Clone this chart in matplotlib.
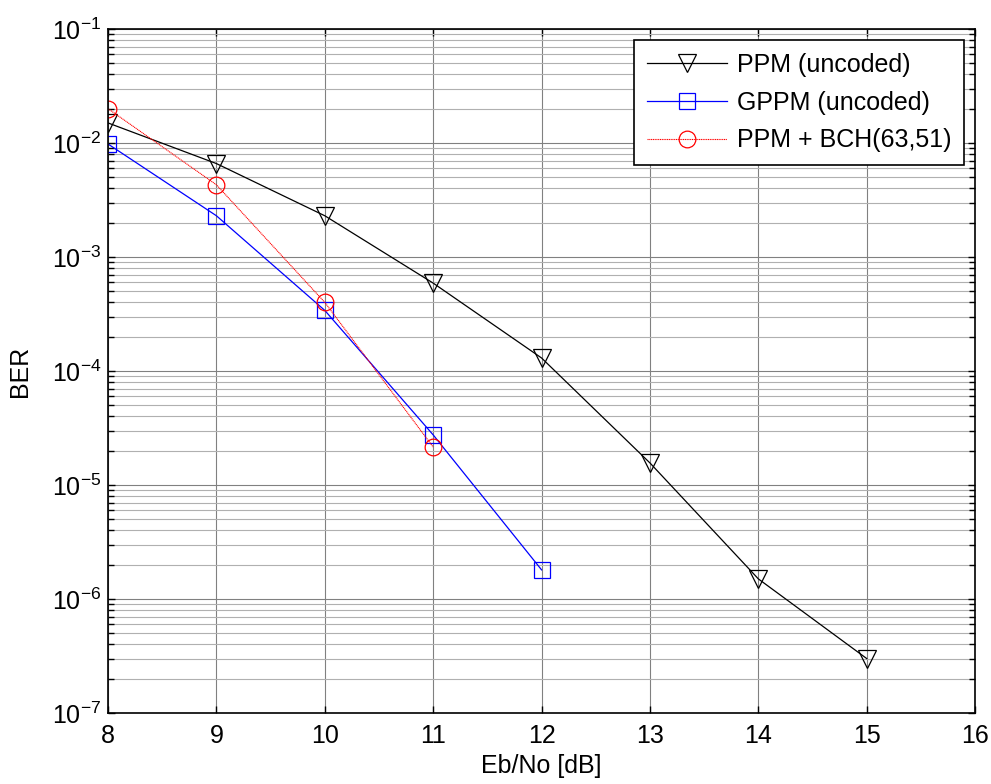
import numpy as np
import matplotlib
matplotlib.use('Agg')
from matplotlib import pyplot as plt
from matplotlib.ticker import LogLocator, FixedLocator, NullFormatter

plt.rcParams['font.family'] = ['Liberation Sans', 'DejaVu Sans']
plt.rcParams['mathtext.fontset'] = 'custom'
plt.rcParams['mathtext.rm'] = 'Liberation Sans'

# данные
ebno_ppm = [8, 9, 10, 11, 12, 13, 14, 15]
ber_ppm = [1.5e-2, 6.6e-3, 2.3e-3, 5.9e-4, 1.3e-4, 1.56e-5, 1.5e-6, 3.0e-7]

ebno_gppm = [8, 9, 10, 11, 12]
ber_gppm = [9.8e-3, 2.3e-3, 3.4e-4, 2.75e-5, 1.8e-6]

ebno_bch = [8, 9, 10, 11]
ber_bch = [2.0e-2, 4.3e-3, 4.0e-4, 2.15e-5]

labels = ['PPM (uncoded)', 'GPPM (uncoded)', 'PPM + BCH(63,51)']

fs = 18

fig = plt.figure(figsize=(9.91, 7.84), dpi=100)
ax = fig.add_axes([0.109, 0.0906, 0.875, 0.8724])

ax.semilogy(ebno_ppm, ber_ppm, color='k', lw=0.9, marker='v', ms=13,
            mfc='none', mec='k', mew=0.9, label=labels[0])
ax.semilogy(ebno_gppm, ber_gppm, color='b', lw=0.9, marker='s', ms=12,
            mfc='none', mec='b', mew=0.9, label=labels[1])
ax.semilogy(ebno_bch, ber_bch, color='r', lw=0.8, ls=(0, (1, 0.6)), marker='o', ms=12,
            mfc='none', mec='r', mew=0.9, label=labels[2])

ax.set_xlim(8, 16)
ax.set_ylim(1e-7, 1e-1)
ax.xaxis.set_major_locator(FixedLocator(np.arange(8, 17)))
ax.yaxis.set_major_locator(LogLocator(base=10, numticks=10))
ax.yaxis.set_minor_locator(LogLocator(base=10, subs=np.arange(2, 10), numticks=20))
ax.yaxis.set_minor_formatter(NullFormatter())
ax.yaxis.set_major_formatter(plt.FuncFormatter(
    lambda v, p: r'$\mathregular{10^{%d}}$' % int(round(np.log10(v)))))

# сетка в стиле MATLAB
ax.grid(True, which='major', color='#808080', lw=0.8)
ax.grid(True, which='minor', axis='y', color='#b0b0b0', lw=0.8)
ax.set_axisbelow(True)

ax.tick_params(which='both', direction='in', top=True, right=True, labelsize=fs,
               width=1.0, color='k')
ax.tick_params(which='major', length=5)
ax.tick_params(axis='x', which='major', pad=8)
ax.tick_params(axis='y', which='major', pad=5)
ax.tick_params(which='minor', length=4)
for s in ax.spines.values():
    s.set_linewidth(1.2)

ax.set_xlabel('Eb/No [dB]', fontsize=fs, labelpad=4)
ax.set_ylabel('BER', fontsize=fs, labelpad=14)

leg = ax.legend(loc='upper right', fontsize=fs, fancybox=False, framealpha=1,
                edgecolor='k', handlelength=3.2, borderaxespad=0.45,
                labelspacing=0.55, handletextpad=0.4, borderpad=0.5)
leg.get_frame().set_linewidth(1.2)

fig.savefig('out.png', dpi=100)
